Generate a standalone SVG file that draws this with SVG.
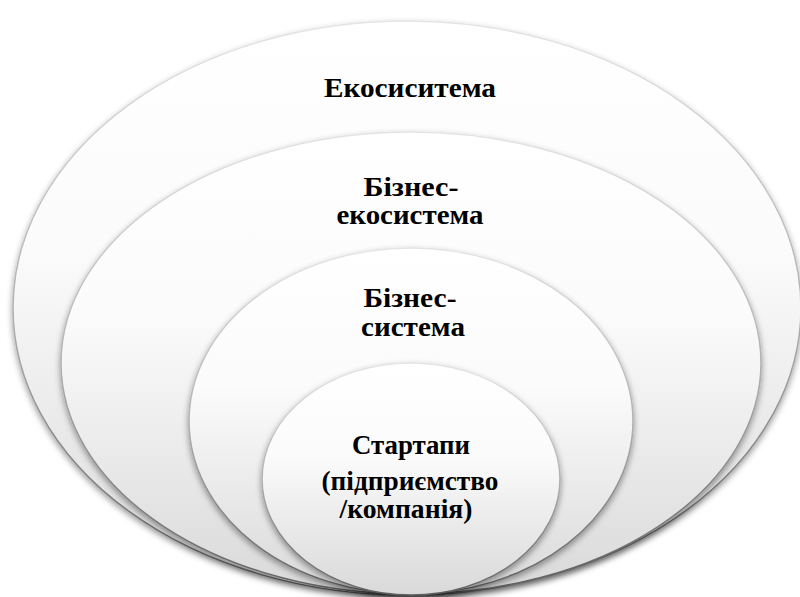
<svg xmlns="http://www.w3.org/2000/svg" width="800" height="597" viewBox="0 0 800 597">
  <defs>
    <linearGradient id="fillG" x1="0" y1="0" x2="0" y2="1">
      <stop offset="0" stop-color="#ffffff"/>
      <stop offset="0.4" stop-color="#fbfbfb"/>
      <stop offset="1" stop-color="#d9d9d9"/>
    </linearGradient>
    <linearGradient id="strokeG" x1="0" y1="0" x2="0" y2="1">
      <stop offset="0" stop-color="#e4e4e4"/>
      <stop offset="0.5" stop-color="#b0b0b0"/>
      <stop offset="1" stop-color="#606060"/>
    </linearGradient>
    <filter id="sh" x="-10%" y="-10%" width="120%" height="125%">
      <feDropShadow dx="0" dy="3" stdDeviation="3" flood-color="#000" flood-opacity="0.4"/>
    </filter>
  </defs>
  <style>
    .ell { fill: url(#fillG); stroke: url(#strokeG); stroke-width: 1.5; filter: url(#sh); }
    .lbl { font-family: "Liberation Serif", "Times New Roman", serif; font-weight: bold; font-size: 27px; fill: #000; text-anchor: middle; }
  </style>
  <rect width="800" height="597" fill="#ffffff"/>
  <g id="connectors"></g>
  <g id="ecosystem">
    <ellipse class="ell" cx="407" cy="308" rx="394" ry="287"/>
    <text class="lbl" x="410" y="97" textLength="172" lengthAdjust="spacingAndGlyphs">Екосиситема</text>
  </g>
  <g id="business-ecosystem">
    <ellipse class="ell" cx="411" cy="363" rx="350" ry="231"/>
    <text class="lbl" x="411" y="196" textLength="95" lengthAdjust="spacingAndGlyphs">Бізнес-</text>
    <text class="lbl" x="410" y="224" textLength="147" lengthAdjust="spacingAndGlyphs">екосистема</text>
  </g>
  <g id="business-system">
    <ellipse class="ell" cx="411" cy="421" rx="222" ry="173"/>
    <text class="lbl" x="410" y="307" textLength="93" lengthAdjust="spacingAndGlyphs">Бізнес-</text>
    <text class="lbl" x="413" y="336" textLength="104" lengthAdjust="spacingAndGlyphs">система</text>
  </g>
  <g id="startups">
    <ellipse class="ell" cx="411" cy="479" rx="149" ry="116"/>
    <text class="lbl" x="411" y="454" textLength="118" lengthAdjust="spacingAndGlyphs">Стартапи</text>
    <text class="lbl" x="410" y="490" textLength="177" lengthAdjust="spacingAndGlyphs">(підприємство</text>
    <text class="lbl" x="406" y="518" textLength="133" lengthAdjust="spacingAndGlyphs">/компанія)</text>
  </g>
</svg>
